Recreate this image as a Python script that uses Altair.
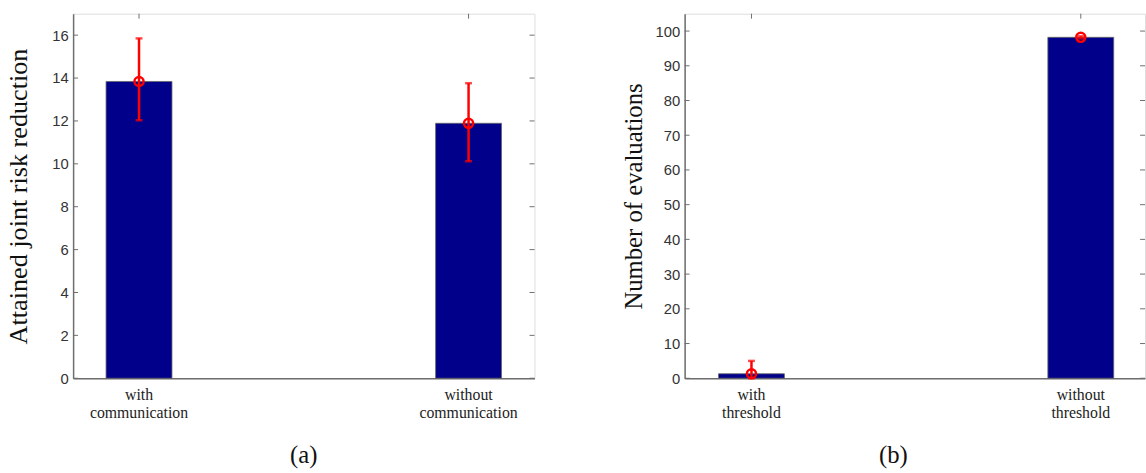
import altair as alt
import pandas as pd

# Panel (a)
cats_a = ["with communication", "without communication"]
mean_a = [13.84, 11.89]
lo_a = [12.03, 10.12]
hi_a = [15.85, 13.76]
ticks_a = [0, 2, 4, 6, 8, 10, 12, 14, 16]

# Panel (b)
cats_b = ["with threshold", "without threshold"]
mean_b = [1.3, 98.2]
lo_b = [0.0, 97.9]
hi_b = [5.0, 98.5]
ticks_b = [0, 10, 20, 30, 40, 50, 60, 70, 80, 90, 100]

BAR = "#00008B"
ERR = "#FF0000"
FRAME = "#6e6e6e"


def panel(cats, mean, lo, hi, ticks, ydom, ytitle, caption, W, H,
          pad_outer, align, title_pad, title_size, cap_frame, cap_offset, cap_dx):
    df = pd.DataFrame({"cat": cats, "mean": mean, "lo": lo, "hi": hi})
    tdf = pd.DataFrame({"t": ticks})
    xscale = alt.Scale(paddingInner=0.8, paddingOuter=pad_outer, align=align)
    xaxis = alt.Axis(title=None, labelAngle=0, labelExpr="split(datum.label, ' ')",
                     labelFont="Liberation Serif", labelFontSize=16, labelColor="#222",
                     ticks=False, domain=True, domainColor=FRAME, domainWidth=1.5,
                     labelPadding=9, labelLineHeight=18)
    yscale = alt.Scale(domain=ydom, nice=False, zero=True)
    yaxis = alt.Axis(values=ticks, tickCount=len(ticks), ticks=False, domain=True,
                     domainColor=FRAME, domainWidth=1.5, grid=False,
                     labelOverlap=False, labelSeparation=0,
                     labelFont="Liberation Sans", labelFontSize=15, labelColor="#333",
                     labelPadding=5, title=ytitle, titleFont="Liberation Serif",
                     titleFontSize=title_size, titleFontWeight="normal", titleColor="#111",
                     titlePadding=title_pad)

    def X():
        return alt.X("cat:N", sort=cats, scale=xscale, axis=xaxis)

    def Y(f):
        return alt.Y(f, scale=yscale, axis=yaxis)

    base = alt.Chart(df)
    bars = base.mark_bar(color=BAR, stroke="#666", strokeWidth=0.8).encode(x=X(), y=Y("mean:Q"))
    err = base.mark_rule(color=ERR, strokeWidth=2.5).encode(x=X(), y=Y("lo:Q"), y2="hi:Q")
    cap_hi = base.mark_tick(color=ERR, size=7, thickness=2.5, orient="horizontal").encode(x=X(), y=Y("hi:Q"))
    cap_lo = base.mark_tick(color=ERR, size=7, thickness=2.5, orient="horizontal").encode(x=X(), y=Y("lo:Q"))
    pts = base.mark_point(shape="circle", filled=False, color=ERR, strokeWidth=2.5,
                          size=85, opacity=1).encode(x=X(), y=Y("mean:Q"))
    tl = alt.Chart(tdf).mark_rule(color=FRAME, strokeWidth=1).encode(
        y=Y("t:Q"), x=alt.value(0), x2=alt.value(5))
    tr = alt.Chart(tdf).mark_rule(color=FRAME, strokeWidth=1).encode(
        y=Y("t:Q"), x=alt.value(W - 5), x2=alt.value(W))
    tt = base.mark_rule(color=FRAME, strokeWidth=1).encode(
        x=X(), y=alt.value(0), y2=alt.value(5))
    return alt.layer(bars, err, cap_hi, cap_lo, pts, tl, tr, tt).properties(
        width=W, height=H,
        title=alt.TitleParams(caption, orient="bottom", font="Liberation Serif",
                              fontSize=25, fontWeight="normal", color="#111",
                              anchor="middle", frame=cap_frame, offset=cap_offset,
                              dx=cap_dx),
    )


pa = panel(cats_a, mean_a, lo_a, hi_a, ticks_a, [0, 17],
           "Attained joint risk reduction", "(a)", 467, 369,
           0.1, 0.5, 19, 26.5, "group", 23, 0)
pb = panel(cats_b, mean_b, lo_b, hi_b, ticks_b, [0, 105],
           "Number of evaluations", "(b)", 466, 369,
           0.099, 0.52, 9, 25, "bounds", 23, 10)

chart = alt.hconcat(pa, pb, spacing=86).properties(
    padding={"left": 5, "top": 10, "right": 0, "bottom": 0}
).configure_view(stroke=FRAME, strokeWidth=1.5).configure_axis(
    labelOverlap=False, labelSeparation=0
).configure(background="white")

chart.save("out.html", embed_options={"renderer": "svg", "actions": False})
